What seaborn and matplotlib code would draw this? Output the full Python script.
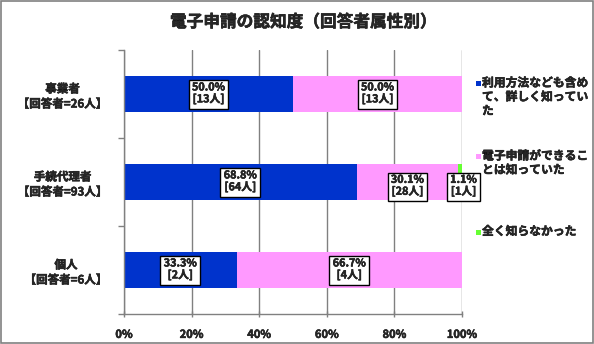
import matplotlib
matplotlib.use("Agg")
import matplotlib.pyplot as plt
import matplotlib.patheffects as pe
import seaborn as sns
import numpy as np
import pandas as pd
from matplotlib.patches import Rectangle

categories = ["事業者\n【回答者=26人】", "手続代理者\n【回答者=93人】", "個人\n【回答者=6人】"]
series_names = ["利用方法なども含め\nて、詳しく知ってい\nた", "電子申請ができるこ\nとは知っていた", "全く知らなかった"]
detail_pct = [50.0, 68.8, 33.3]
aware_pct = [50.0, 30.1, 66.7]
none_pct = [0.0, 1.1, 0.0]
detail_n = [13, 64, 2]
aware_n = [13, 28, 4]
none_n = [0, 1, 0]
xtick_labels = ["0%", "20%", "40%", "60%", "80%", "100%"]
title = "電子申請の認知度（回答者属性別）"

colors = ["#0033CC", "#FF99FF", "#66FF33"]

sns.set_theme(style="white")
plt.rcParams['font.family'] = ['Noto Sans CJK JP', 'DejaVu Sans']
plt.rcParams['font.weight'] = 'bold'

bold = [pe.withStroke(linewidth=0.35, foreground='black')]

fig = plt.figure(figsize=(5.94, 3.44), dpi=100)
ax = fig.add_axes([124/594, 1-314/344, (462-124)/594, 264/344])

df = pd.DataFrame({"cat": categories, "d": detail_pct, "a": aware_pct, "n": none_pct})
cum1 = df["d"]
cum2 = df["d"] + df["a"]
cum3 = cum2 + df["n"]

sns.barplot(x=cum3, y=df["cat"], color=colors[2], saturation=1, width=0.4, ax=ax, orient="h", linewidth=0)
sns.barplot(x=cum2, y=df["cat"], color=colors[1], saturation=1, width=0.4, ax=ax, orient="h", linewidth=0)
sns.barplot(x=cum1, y=df["cat"], color=colors[0], saturation=1, width=0.4, ax=ax, orient="h", linewidth=0)

ax.set_xlim(0, 100)
ax.set_ylim(2.5, -0.5)
ax.set_xticks(np.arange(0, 101, 20))
ax.set_xticklabels(xtick_labels, fontsize=8, fontweight='bold')
ax.set_xlabel("")
ax.set_ylabel("")
ax.set_yticks(range(3))
ax.set_yticklabels(categories, fontsize=8.3, fontweight='bold', multialignment='center')
ax.set_yticks([-0.5, 0.5, 1.5, 2.5], minor=True)
ax.tick_params(axis='y', which='major', length=0, pad=12)
ax.tick_params(axis='y', which='minor', length=4, width=1, color='#808080', direction='out', left=True)
ax.tick_params(axis='x', which='major', length=4, width=1, color='#808080', direction='inout', bottom=True, pad=8)
for t in ax.get_xticklabels() + ax.get_yticklabels():
    t.set_path_effects(bold)
ax.grid(axis='x', color='#808080', linewidth=1)
ax.set_axisbelow(True)
for s in ['top', 'right']:
    ax.spines[s].set_visible(False)
for s in ['left', 'bottom']:
    ax.spines[s].set_color('#808080')
    ax.spines[s].set_linewidth(1)

box = dict(boxstyle='square,pad=0.3', facecolor='white', edgecolor='black', linewidth=1)
for i in range(3):
    segs = [(detail_pct[i], detail_n[i], 0), (aware_pct[i], aware_n[i], detail_pct[i]),
            (none_pct[i], none_n[i], detail_pct[i] + aware_pct[i])]
    for j, (p, n, left) in enumerate(segs):
        if p <= 0:
            continue
        xc = left + p / 2
        dy = 0.05 if (i == 1 and j > 0) else 0
        if i == 1 and j == 2:
            xc += 1.0
        ax.text(xc, i + dy, f"{p:.1f}%\n[{n}人]", ha='center', va='center',
                fontsize=7.8, fontweight='bold', bbox=box, linespacing=1.1, clip_on=False,
                path_effects=bold)

# legend (manual, marker aligned with first line)
leg_y = [83.5, 156.5, 232]
for c, name, y in zip(colors, series_names, leg_y):
    fig.patches.append(Rectangle((476/594, 1-(y+2.5)/344), 5/594, 5/344, transform=fig.transFigure,
                                 facecolor=c, edgecolor='none'))
    fig.text(482/594, 1-(y-7)/344, name, ha='left', va='top', fontsize=8.5, fontweight='bold',
             linespacing=1.1, path_effects=bold)

fig.text(303/594, 1-22/344, title, ha='center', va='center', fontsize=12, fontweight='bold',
         path_effects=bold)
fig.patches.append(Rectangle((0.001, 0.002), 0.997, 0.995, transform=fig.transFigure,
                             fill=False, edgecolor='#808080', linewidth=1.2))

fig.savefig("out.png", dpi=100)
